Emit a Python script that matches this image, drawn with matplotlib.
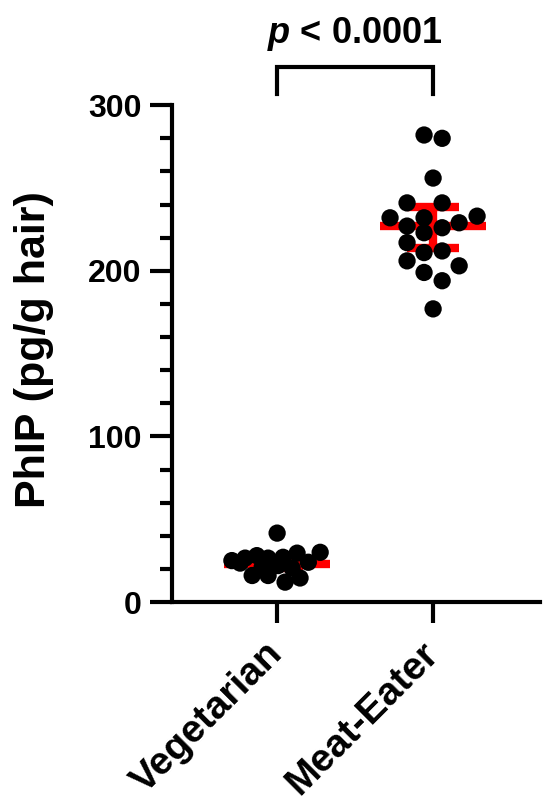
import numpy as np
import matplotlib.pyplot as plt

plt.rcParams['font.family'] = ['Liberation Sans', 'DejaVu Sans']
plt.rcParams['font.weight'] = 'bold'
plt.rcParams['mathtext.fontset'] = 'custom'
plt.rcParams['mathtext.it'] = 'Liberation Sans:bold:italic'
plt.rcParams['mathtext.rm'] = 'Liberation Sans:bold'

groups = ['Vegetarian', 'Meat-Eater']

veg_values = [41.6, 25, 26.5, 28, 23.5, 26.5, 27, 29.5, 30, 16, 16, 12, 14.5, 21, 20.5, 22, 24]
veg_offsets = [0, -0.29, -0.205, -0.13, -0.237, -0.058, 0.038, 0.128, 0.276, -0.16, -0.058, 0.051, 0.147, -0.096, 0.096, 0.006, 0.2]

meat_values = [282, 280, 256, 241, 241, 232, 232, 233, 229, 227, 226, 223, 217, 211, 212, 206, 203, 199, 194, 177]
meat_offsets = [-0.058, 0.058, 0, -0.167, 0.058, -0.276, -0.058, 0.282, 0.167, -0.167, 0.058, -0.058, -0.167, -0.058, 0.058, -0.167, 0.167, -0.058, 0.058, 0]

centers = [23, 227]
err_low = [20.5, 214]
err_high = [25.5, 238.5]

fig = plt.figure(figsize=(5.5, 8), dpi=100)
ax = fig.add_axes([0.313, 0.2475, 0.669, 0.621])

all_vals = [veg_values, meat_values]
all_offs = [veg_offsets, meat_offsets]

for i in range(2):
    # center line + error bar
    ax.plot([i - 0.34, i + 0.34], [centers[i]] * 2, color='#ff0000', lw=6, solid_capstyle='butt', zorder=2)
    ax.plot([i, i], [err_low[i], err_high[i]], color='#ff0000', lw=6, solid_capstyle='butt', zorder=2)
    for e in (err_low[i], err_high[i]):
        ax.plot([i - 0.167, i + 0.167], [e, e], color='#ff0000', lw=6, solid_capstyle='butt', zorder=2)
    x = i + np.array(all_offs[i])
    ax.scatter(x, all_vals[i], s=155, color='black', edgecolors='none', zorder=3)

ax.set_xlim(-0.673, 1.686)
ax.set_ylim(0, 300)

for s in ['top', 'right']:
    ax.spines[s].set_visible(False)
for s in ['left', 'bottom']:
    ax.spines[s].set_linewidth(3)

ax.set_yticks([0, 100, 200, 300])
ax.set_yticks(np.arange(20, 300, 20), minor=True)
ax.tick_params(axis='y', which='major', length=16, width=3, labelsize=23, pad=6)
ax.tick_params(axis='y', which='minor', length=8.5, width=3)
ax.set_xticks([0, 1])
ax.set_xticklabels(groups, rotation=45, ha='right', va='center', rotation_mode='anchor', fontsize=28)
ax.tick_params(axis='x', length=15, width=3, pad=18)

fig.text(0.062, 0.5625, 'PhIP (pg/g hair)', rotation=90, ha='center', va='center',
         fontsize=31, fontweight='bold')

# significance bracket
ax.plot([0, 0, 1, 1], [307, 323, 323, 307], color='black', lw=3, clip_on=False,
        solid_joinstyle='miter')
ax.text(0.5, 343, r'$p$ < 0.0001', ha='center', va='center', fontsize=26,
        fontweight='bold', clip_on=False)

fig.savefig('out.png', dpi=100)
